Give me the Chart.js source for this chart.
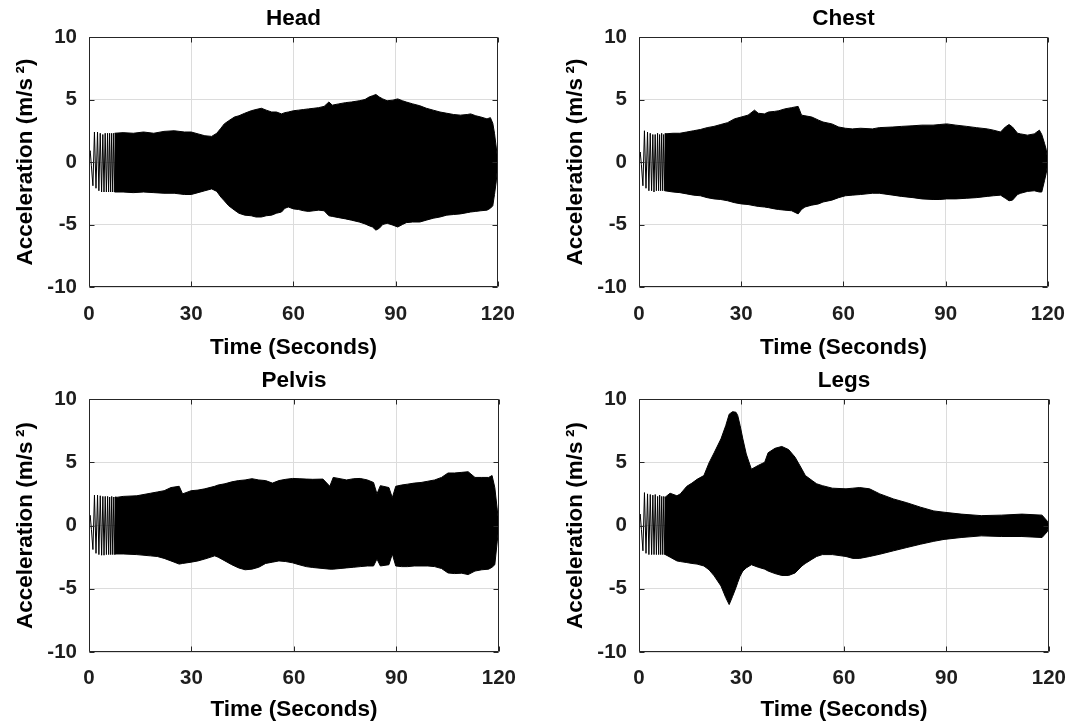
<!DOCTYPE html>
<html>
<head>
<meta charset="utf-8">
<script src="https://cdn.jsdelivr.net/npm/chart.js@4.4.1/dist/chart.umd.min.js"></script>
<style>
  html, body { margin: 0; padding: 0; background: #ffffff; }
  body { width: 1080px; height: 725px; position: relative; overflow: hidden; }
  canvas { position: absolute; }
</style>
</head>
<body>
<canvas id="cHead" width="530" height="362" style="left:0px;top:0px;width:530px;height:362px"></canvas>
<canvas id="cChest" width="530" height="362" style="left:550px;top:0px;width:530px;height:362px"></canvas>
<canvas id="cPelvis" width="530" height="363" style="left:0px;top:362px;width:530px;height:363px"></canvas>
<canvas id="cLegs" width="530" height="363" style="left:550px;top:362px;width:530px;height:363px"></canvas>
<script>
// ---------------- data ----------------
const panelTitles = ["Head", "Chest", "Pelvis", "Legs"];
const xTickValues = [0, 30, 60, 90, 120];
const yTickValues = [-10, -5, 0, 5, 10];
const xAxisTitle = "Time (Seconds)";
const yAxisTitle = "Acceleration (m/s\u2009\u00B2)";

// start-up portion where single oscillations are still visible (peaks / troughs)
const chirpTimes = [0, 0.35, 0.7, 1.15, 1.6, 2.05, 2.5, 2.9, 3.3, 3.7, 4.05, 4.4, 4.75, 5.1, 5.45, 5.75, 6.05, 6.35, 6.65, 6.95, 7.25, 7.55, 7.85];
const headChirp   = [0.6, 0.9, -0.3, -1.9, 2.4, -2.1, 2.4, -2.3, 2.3, -2.4, 2.2, -2.4, 2.3, -2.4, 2.3, -2.4, 2.3, -2.4, 2.3, -2.4, 2.3, -2.4, 2.3];
const chestChirp  = [0.3, 0.8, -0.2, -1.9, 2.5, -2.1, 2.4, -2.3, 2.3, -2.3, 2.2, -2.4, 2.2, -2.3, 2.3, -2.3, 2.2, -2.3, 2.3, -2.3, 2.2, -2.3, 2.3];
const pelvisChirp = [0.2, 0.8, -0.3, -1.9, 2.4, -2.2, 2.4, -2.3, 2.35, -2.35, 2.3, -2.35, 2.3, -2.3, 2.3, -2.3, 2.25, -2.3, 2.3, -2.3, 2.25, -2.3, 2.3];
const legsChirp   = [0.3, 0.9, -0.3, -2.0, 2.6, -2.2, 2.5, -2.3, 2.45, -2.3, 2.4, -2.3, 2.45, -2.3, 2.3, -2.3, 2.4, -2.3, 2.3, -2.3, 2.3, -2.3, 2.2];

// envelope of the dense oscillation (upper / lower peaks)
const headTime  = [7.5,10,13,16,19,22,25,28,30,32,34,36,37.5,38.7,39.7,41,42.7,44,45.7,47.6,49,50.6,52,53.6,55,56.5,57.5,58.5,60,61.5,63,64.4,66,67.4,69,70.4,71.4,73.3,75.3,77,79.3,81,82.2,83.2,84.2,85.2,86.2,87.5,89.2,90.6,92,93.1,95,97.1,99,101,103,105,107,109,111,112,113.5,115,116.8,117.8,118.5,119,119.5,120];
const headUpper = [2.3,2.35,2.3,2.4,2.3,2.45,2.5,2.4,2.4,2.25,2.1,2.05,2.3,2.7,3.05,3.3,3.6,3.7,3.9,4.1,4.2,4.3,4.15,4.0,4.0,3.85,3.95,4.0,4.1,4.15,4.2,4.25,4.3,4.35,4.45,4.8,4.55,4.65,4.75,4.8,4.9,5.0,5.2,5.3,5.4,5.2,5.05,4.9,4.95,5.05,4.9,4.8,4.65,4.5,4.3,4.15,4.0,3.9,3.8,3.75,3.8,3.85,3.7,3.6,3.45,3.55,3.1,2.3,1.2,0];
const headLower = [-2.4,-2.4,-2.45,-2.4,-2.45,-2.5,-2.5,-2.6,-2.6,-2.45,-2.3,-2.15,-2.35,-2.8,-3.1,-3.5,-3.85,-4.1,-4.25,-4.3,-4.4,-4.4,-4.3,-4.25,-4.1,-4.0,-3.7,-3.6,-3.75,-3.8,-3.9,-3.95,-3.9,-3.85,-3.9,-4.3,-4.35,-4.45,-4.55,-4.65,-4.8,-4.95,-5.1,-5.2,-5.45,-5.3,-5.0,-4.9,-5.05,-5.2,-5.0,-4.85,-4.8,-4.8,-4.65,-4.5,-4.4,-4.25,-4.2,-4.15,-4.05,-4.0,-3.95,-3.9,-3.85,-3.7,-3.5,-2.6,-1.6,0];

const chestTime  = [7.5,10,12,14,16,18,20,22,24,26,28,30,32,33.9,35,36.8,38,39.8,41,42.8,44.8,46.7,47.7,48.7,50.7,52.7,54,56.6,58.6,60.6,62.6,65,68.5,70.5,74.5,77,80.4,83,86.3,88.3,90.3,93,96.2,99,102.2,104,106.1,107.5,108.6,109.6,111.1,112,114,116,117.5,118.2,119,119.5,120];
const chestUpper = [2.25,2.3,2.3,2.4,2.5,2.6,2.75,2.85,3.0,3.15,3.45,3.6,3.75,4.15,3.9,3.85,4.0,4.05,4.1,4.25,4.35,4.45,3.75,3.7,3.6,3.35,3.2,3.05,2.8,2.7,2.65,2.7,2.65,2.75,2.8,2.85,2.9,2.95,2.95,3.0,3.05,2.95,2.85,2.75,2.65,2.55,2.4,2.8,3.0,2.8,2.3,2.25,2.15,2.25,2.55,2.2,1.5,1.0,0];
const chestLower = [-2.3,-2.4,-2.45,-2.55,-2.65,-2.7,-2.85,-2.95,-3.0,-3.1,-3.25,-3.35,-3.4,-3.5,-3.55,-3.6,-3.65,-3.75,-3.8,-3.85,-3.9,-4.15,-3.8,-3.6,-3.45,-3.35,-3.2,-3.05,-2.85,-2.7,-2.65,-2.6,-2.5,-2.5,-2.65,-2.75,-2.85,-2.95,-3.0,-3.0,-2.95,-2.95,-2.9,-2.85,-2.75,-2.7,-2.65,-2.9,-3.1,-3.05,-2.6,-2.5,-2.35,-2.3,-2.4,-2.4,-1.5,-0.9,0];

const pelvisTime  = [7.5,10,14,18,20,22,24,26.4,27.4,29.9,31.9,33.9,36.8,37.8,39.8,41.8,43.8,45.7,47.7,49.7,51.7,53.7,55.6,57.6,59.6,61.5,63.6,65.5,68.5,70.5,71.5,73.5,75.4,77.5,79.4,81.5,83.3,84.3,85.3,87.8,88.8,89.8,91.5,93.3,95.2,97.2,99.2,101.2,103.2,105.1,107,109.1,111,113,115,117,118,118.8,119.5,120];
const pelvisUpper = [2.2,2.3,2.35,2.55,2.65,2.75,3.0,3.1,2.5,2.75,2.8,2.9,3.1,3.2,3.3,3.45,3.55,3.6,3.7,3.6,3.55,3.35,3.55,3.65,3.72,3.7,3.67,3.65,3.67,3.1,3.8,3.7,3.6,3.7,3.72,3.6,3.4,2.5,3.15,3.0,2.2,3.1,3.2,3.27,3.35,3.4,3.5,3.6,3.8,4.15,4.15,4.2,4.25,3.8,3.8,3.8,3.95,3.0,1.3,0];
const pelvisLower = [-2.25,-2.25,-2.3,-2.4,-2.45,-2.6,-2.8,-3.05,-3.0,-2.9,-2.8,-2.65,-2.4,-2.5,-2.8,-3.1,-3.35,-3.5,-3.45,-3.3,-3.0,-2.9,-2.8,-2.85,-2.95,-3.1,-3.25,-3.32,-3.4,-3.45,-3.45,-3.4,-3.35,-3.3,-3.25,-3.2,-3.2,-2.65,-3.2,-3.1,-2.25,-3.2,-3.25,-3.25,-3.2,-3.2,-3.2,-3.25,-3.4,-3.75,-3.8,-3.77,-3.88,-3.6,-3.5,-3.45,-3.3,-3.1,-1.3,0];

const legsTime  = [7.5,9.1,11.1,12.1,14,15.5,17,19,20.5,22,24,25.4,26.4,27.4,28.4,28.9,29.6,30.4,31.4,32.9,34.9,36.8,37.8,39.8,41.8,43.8,45.7,47.7,48.7,50.7,52,53.7,56.6,60.6,62.6,64.6,67.5,70.5,74.5,78.4,82.4,86.3,89.3,94.3,100.2,106.1,112.1,118,119.5,120];
const legsUpper = [2.2,2.55,2.35,2.5,3.1,3.35,3.65,3.95,4.95,5.75,6.85,7.9,8.8,9.0,8.95,8.7,7.9,6.85,5.65,4.45,4.75,5.0,5.75,6.1,6.25,6.0,5.4,4.45,3.95,3.55,3.3,3.15,2.95,2.9,2.95,3.0,2.9,2.5,2.1,1.8,1.45,1.15,1.05,0.9,0.78,0.82,0.9,0.82,0.35,0];
const legsLower = [-2.27,-2.5,-2.8,-2.85,-2.93,-3.0,-3.05,-3.2,-3.5,-3.98,-4.78,-5.7,-6.25,-5.6,-4.9,-4.5,-4.0,-3.6,-3.35,-3.1,-3.3,-3.45,-3.6,-3.8,-3.95,-3.95,-3.75,-3.2,-3.0,-2.66,-2.45,-2.3,-2.3,-2.45,-2.6,-2.6,-2.45,-2.27,-2.0,-1.74,-1.48,-1.25,-1.1,-0.95,-0.82,-0.87,-0.87,-0.95,-0.5,0];

// ---------------- drawing ----------------
const FONT = "'Liberation Sans', Arial, Helvetica, sans-serif";
const INK = "#000000";
const AXIS = "#1e1e1e";
const GRID = "#dcdcdc";

function pts(xs, ys) { return xs.map((x, i) => ({ x: x, y: ys[i] })); }

const boxPlugin = {
  id: 'matlabBox',
  afterDatasetsDraw(chart) {
    const { ctx, chartArea } = chart;
    const xs = chart.scales.x, ys = chart.scales.y;
    const L = Math.round(chartArea.left) + 0.5, R = Math.round(chartArea.right) - 0.5;
    const T = Math.round(chartArea.top) + 0.5, B = Math.round(chartArea.bottom) - 0.5;
    ctx.save();
    ctx.strokeStyle = "#262626";
    ctx.lineWidth = 1;
    ctx.beginPath();
    ctx.rect(L, T, R - L, B - T);
    const tl = 5;
    xTickValues.forEach(v => {
      const px = Math.round(xs.getPixelForValue(v)) + 0.5;
      ctx.moveTo(px, B); ctx.lineTo(px, B - tl);
      ctx.moveTo(px, T); ctx.lineTo(px, T + tl);
    });
    yTickValues.forEach(v => {
      const py = Math.round(ys.getPixelForValue(v)) + 0.5;
      ctx.moveTo(L, py); ctx.lineTo(L + tl, py);
      ctx.moveTo(R, py); ctx.lineTo(R - tl, py);
    });
    ctx.stroke();
    ctx.restore();
  }
};

function makePanel(canvasId, title, chirpV, tArr, upArr, loArr, plotBottom, xTickPad, xTitlePad) {
  const canvas = document.getElementById(canvasId);
  const H = canvas.height;
  return new Chart(canvas, {
    type: 'line',
    data: {
      datasets: [
        { data: pts(tArr, upArr), borderColor: INK, backgroundColor: INK, borderWidth: 1, pointRadius: 0, fill: '+1', tension: 0 },
        { data: pts(tArr, loArr), borderColor: INK, backgroundColor: INK, borderWidth: 1, pointRadius: 0, fill: false, tension: 0 },
        { data: pts(chirpTimes, chirpV), borderColor: INK, borderWidth: 1, pointRadius: 0, fill: false, tension: 0 }
      ]
    },
    options: {
      responsive: false,
      animation: false,
      events: [],
      layout: { padding: { left: 0, right: 23, top: 0, bottom: 0 } },
      plugins: {
        legend: { display: false },
        tooltip: { enabled: false },
        title: {
          display: true, text: title, color: INK, fullSize: false,
          font: { family: FONT, size: 22.5, weight: 'bold', lineHeight: 1.2 },
          padding: { top: 5, bottom: 5 }
        }
      },
      scales: {
        x: {
          type: 'linear', min: 0, max: 120,
          afterBuildTicks: s => { s.ticks = xTickValues.map(v => ({ value: v })); },
          afterFit: s => { s.height = H - plotBottom; },
          grid: { color: GRID, lineWidth: 1, drawTicks: false },
          border: { display: false },
          ticks: { color: AXIS, padding: xTickPad, maxRotation: 0, autoSkip: false,
                   font: { family: FONT, size: 20.5, weight: 'bold', lineHeight: 1.2 } },
          title: { display: true, text: xAxisTitle, color: INK,
                   font: { family: FONT, size: 22.5, weight: 'bold', lineHeight: 1.2 },
                   padding: { top: 0, bottom: xTitlePad } }
        },
        y: {
          type: 'linear', min: -10, max: 10,
          afterBuildTicks: s => { s.ticks = yTickValues.map(v => ({ value: v })); },
          afterFit: s => { s.width = 89; },
          grid: { color: GRID, lineWidth: 1, drawTicks: false },
          border: { display: false },
          ticks: { color: AXIS, padding: 12, autoSkip: false,
                   font: { family: FONT, size: 20.5, weight: 'bold', lineHeight: 1.2 } },
          title: { display: true, text: yAxisTitle, color: INK,
                   font: { family: FONT, size: 22.5, weight: 'bold', lineHeight: 1.2 },
                   padding: { top: 12.5, bottom: 0 } }
        }
      }
    },
    plugins: [boxPlugin]
  });
}

makePanel('cHead',   panelTitles[0], headChirp,   headTime,   headUpper,   headLower,   287, 15, 0.5);
makePanel('cChest',  panelTitles[1], chestChirp,  chestTime,  chestUpper,  chestLower,  287, 15, 0.5);
makePanel('cPelvis', panelTitles[2], pelvisChirp, pelvisTime, pelvisUpper, pelvisLower, 290, 14, 1.5);
makePanel('cLegs',   panelTitles[3], legsChirp,   legsTime,   legsUpper,   legsLower,   290, 14, 1.5);
</script>
</body>
</html>
